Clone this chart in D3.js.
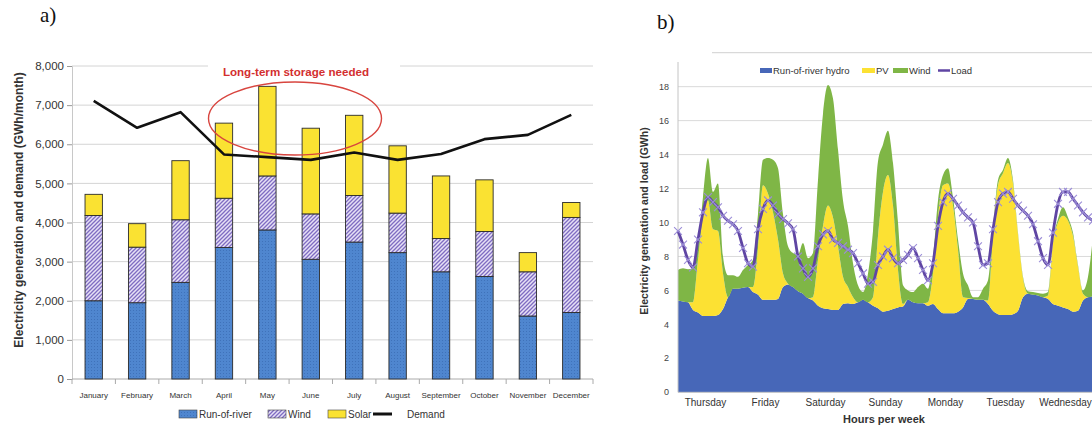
<!DOCTYPE html>
<html>
<head>
<meta charset="utf-8">
<script src="https://cdn.jsdelivr.net/npm/d3@7/dist/d3.min.js"></script>
<style>
  html, body { margin: 0; padding: 0; background: #fff; }
  svg { display: block; }
  text { font-family: "Liberation Sans", Arial, sans-serif; }
</style>
</head>
<body>
<svg id="chart" width="1092" height="427"></svg>
<script>
// ---------- Panel a: monthly generation vs demand (GWh/month) ----------
const months = ["January", "February", "March", "April", "May", "June", "July",
  "August", "September", "October", "November", "December"];
const runOfRiver = [2000, 1950, 2470, 3360, 3810, 3060, 3500, 3230, 2740, 2620, 1610, 1700];
const windMonthly = [2180, 1420, 1600, 1260, 1380, 1160, 1190, 1010, 850, 1150, 1130, 2430];
const solarMonthly = [540, 600, 1510, 1920, 2290, 2190, 2050, 1720, 1600, 1320, 490, 380];
const demandMonthly = [7110, 6420, 6820, 5740, 5670, 5600, 5790, 5600, 5750, 6130, 6240, 6750];
const monthlyTicks = [0, 1000, 2000, 3000, 4000, 5000, 6000, 7000, 8000];

// ---------- Panel b: one week of hourly generation and load (GWh) ----------
const hours = d3.range(0, 168, 2);
const hydroWeek = [5.4, 5.35, 5.3, 4.85, 4.7, 4.5, 4.5, 4.5, 4.55, 4.9, 5.6, 6.1, 6.1, 6.15, 6.2, 5.9,
  5.75, 5.45, 5.45, 5.45, 5.5, 6.2, 6.35, 6.2, 5.95, 5.8, 5.55, 5.4, 5.1, 4.95, 4.9, 4.85,
  4.85, 5.2, 5.25, 5.2, 5.3, 5.45, 5.3, 5.1, 4.95, 4.75, 4.8, 4.9, 5.0, 5.05, 5.45, 5.3,
  5.25, 5.25, 5.1, 5.2, 4.9, 4.65, 4.65, 4.65, 4.75, 5.0, 5.5, 5.5, 5.45, 5.45, 5.2, 4.8,
  4.6, 4.55, 4.55, 4.6, 4.8, 5.6, 5.8, 5.75, 5.7, 5.6, 5.5, 5.2, 5.1, 5.0, 4.9, 4.75,
  4.8, 5.4, 5.6, 5.65];
const pvWeek = [0, 0, 0, 0.45, 3.1, 5.9, 6.8, 5.1, 4.95, 2.1, 0, 0, 0, 0, 0, 0.3,
  2.75, 6.75, 6.25, 5.15, 3.5, 0.8, 0.05, 0, 0, 0, 0, 0.2, 2.7, 4.85, 6.1, 5.45,
  3.75, 1.6, 0.95, 0.4, 0, 0, 0, 0.5, 4.25, 7.05, 8.0, 6.1, 2.2, 0.15, 0, 0,
  0, 0, 0.2, 1.8, 5.4, 7.55, 7.65, 6.35, 3.65, 0.6, 0.05, 0, 0, 0, 0.2, 4.5,
  7.6, 8.35, 8.95, 7.7, 4.5, 1.1, 0, 0, 0, 0, 0.2, 3.6, 4.9, 5.4, 5.2, 4.45,
  2.6, 0.4, 0, 0];
const windWeek = [1.8, 1.95, 1.95, 2.0, 0.8, 1.1, 2.5, 2.2, 2.8, 1.0, 1.3, 0.8, 0.7, 1.05, 1.3, 1.6,
  2.0, 1.5, 2.1, 3.1, 4.2, 3.5, 2.2, 2.0, 2.15, 3.0, 2.35, 2.6, 4.7, 6.6, 7.1, 7.0,
  5.7, 4.5, 3.6, 2.0, 1.0, 0.45, 1.7, 3.9, 4.4, 2.8, 2.6, 2.5, 2.8, 1.1, 0.55, 0.6,
  0.95, 1.15, 0.8, 0.9, 1.0, 0.6, 0.9, 0.5, 0.6, 1.4, 0.75, 0.1, 0.15, 0.65, 1.2, 0.3,
  0.3, 0.2, 0.3, 0.2, 0.1, 0.1, 0.15, 0.15, 0.15, 0.2, 0.2, 0.1, 0.2, 0.5, 0.2, 0.2,
  0.1, 0.2, 1.2, 3.55];
const loadWeek = [9.5, 8.7, 7.8, 7.35, 9.0, 10.6, 11.5, 11.2, 10.9, 10.4, 10.1, 9.9, 9.5, 8.5, 7.6, 7.4,
  9.6, 10.8, 11.3, 11.0, 10.5, 10.2, 9.95, 9.6, 8.0, 7.3, 6.8, 7.3, 8.6, 9.3, 9.5, 9.0,
  8.8, 8.6, 8.4, 8.2, 7.6, 7.0, 6.4, 6.5, 7.5, 8.0, 8.4, 7.9, 7.6, 7.8, 8.1, 8.5,
  7.9, 7.2, 6.6, 7.6, 9.8, 11.2, 11.7, 11.4, 11.0, 10.6, 10.3, 10.0, 8.6, 7.5, 7.6, 9.6,
  11.2, 11.7, 11.8, 11.4, 11.0, 10.7, 10.4, 9.9, 8.9, 7.9, 7.5, 9.4, 11.1, 11.8, 11.8, 11.4,
  11.0, 10.6, 10.3, 10.1];
const weekDays = ["Thursday", "Friday", "Saturday", "Sunday", "Monday", "Tuesday", "Wednesday"];
const weekTicks = [0, 2, 4, 6, 8, 10, 12, 14, 16, 18];

const svg = d3.select("#chart");
const defs = svg.append("defs");

// Fill textures for the monthly bars
const dotPat = defs.append("pattern").attr("id", "riverFill")
  .attr("width", 3).attr("height", 3).attr("patternUnits", "userSpaceOnUse");
dotPat.append("rect").attr("width", 3).attr("height", 3).attr("fill", "#4f86cf");
dotPat.append("rect").attr("x", 1).attr("y", 1).attr("width", 1).attr("height", 1).attr("fill", "#3f72ba");

const hatchPat = defs.append("pattern").attr("id", "windFill")
  .attr("width", 4).attr("height", 4).attr("patternUnits", "userSpaceOnUse");
hatchPat.append("rect").attr("width", 4).attr("height", 4).attr("fill", "#e6e0f6");
hatchPat.append("path").attr("d", "M-1,1 L1,-1 M0,4 L4,0 M3,5 L5,3")
  .attr("stroke", "#7f6cc2").attr("stroke-width", 1.3);

const riverColor = "url(#riverFill)";
const windColor = "url(#windFill)";
const solarColor = "#fae232";

// ================= Panel a =================
const ax = d3.scaleBand().domain(months).range([72, 593]).paddingInner(0.6).paddingOuter(0.3);
const ay = d3.scaleLinear().domain([0, 8000]).range([379, 66]);
const ga = svg.append("g");

ga.append("text").attr("x", 40).attr("y", 22).text("a)")
  .style("font-family", "'Liberation Serif', serif").style("font-size", "21px").attr("fill", "#111");

// horizontal grid
ga.append("g").selectAll("line").data(monthlyTicks.filter(d => d > 0)).join("line")
  .attr("x1", 72).attr("x2", 593).attr("y1", d => ay(d)).attr("y2", d => ay(d))
  .attr("stroke", "#d4d4d4").attr("stroke-width", 1);

// y axis
const yAxisA = d3.axisLeft(ay).tickValues(monthlyTicks).tickFormat(d3.format(",")).tickSize(5).tickPadding(3);
const gYA = ga.append("g").attr("transform", "translate(72,0)").call(yAxisA);
gYA.select(".domain").attr("stroke", "#c8c8c8");
gYA.selectAll(".tick line").attr("stroke", "#999");
gYA.selectAll(".tick text").attr("fill", "#333").style("font-size", "11.5px")
  .style("font-family", "'Liberation Sans', Arial, sans-serif");

// x axis with ticks at category boundaries
ga.append("line").attr("x1", 72).attr("x2", 593).attr("y1", 379).attr("y2", 379).attr("stroke", "#aaa");
const step = ax.step();
const boundaries = d3.range(months.length + 1).map(i => ax.range()[0] + i * step);
ga.append("g").selectAll("line").data(boundaries).join("line")
  .attr("x1", d => d).attr("x2", d => d).attr("y1", 379).attr("y2", 384).attr("stroke", "#aaa");
ga.append("g").selectAll("text").data(months).join("text")
  .attr("x", d => ax(d) + ax.bandwidth() / 2).attr("y", 398)
  .attr("text-anchor", "middle").style("font-size", "8px").attr("fill", "#333").text(d => d);

// stacked bars
const monthRows = months.map((m, i) => ({ month: m, river: runOfRiver[i], wind: windMonthly[i], solar: solarMonthly[i] }));
const stackA = d3.stack().keys(["river", "wind", "solar"])(monthRows);
const fillA = { river: riverColor, wind: windColor, solar: solarColor };
ga.append("g").selectAll("g").data(stackA).join("g")
  .attr("fill", d => fillA[d.key])
  .selectAll("rect").data(d => d).join("rect")
  .attr("x", d => ax(d.data.month)).attr("width", ax.bandwidth())
  .attr("y", d => ay(d[1])).attr("height", d => ay(d[0]) - ay(d[1]))
  .attr("stroke", "#2b2b2b").attr("stroke-width", 0.9);

// demand line
const demandLine = d3.line().x((d, i) => ax(months[i]) + ax.bandwidth() / 2).y(d => ay(d));
ga.append("path").datum(demandMonthly).attr("d", demandLine)
  .attr("fill", "none").attr("stroke", "#111").attr("stroke-width", 2.6).attr("stroke-linejoin", "round");

// annotation
ga.append("ellipse").attr("cx", 295).attr("cy", 118.5).attr("rx", 86.5).attr("ry", 36.5)
  .attr("fill", "none").attr("stroke", "#d8453f").attr("stroke-width", 1.4);
ga.append("rect").attr("x", 208).attr("y", 62).attr("width", 192).attr("height", 10).attr("fill", "#fff");
ga.append("text").attr("x", 296).attr("y", 76).attr("text-anchor", "middle")
  .style("font-size", "11.6px").style("font-weight", "bold").attr("fill", "#d32f2f")
  .text("Long-term storage needed");

// y title
ga.append("text").attr("transform", "translate(23,210) rotate(-90)").attr("text-anchor", "middle")
  .style("font-size", "12px").style("font-weight", "bold").attr("fill", "#333")
  .text("Electricity generation and demand (GWh/month)");

// legend
const legA = [
  { label: "Run-of-river", fill: riverColor, x: 179 },
  { label: "Wind", fill: windColor, x: 268 },
  { label: "Solar", fill: solarColor, x: 328 }
];
const gLegA = ga.append("g");
gLegA.selectAll("rect").data(legA).join("rect")
  .attr("x", d => d.x).attr("y", 410).attr("width", 18).attr("height", 8)
  .attr("fill", d => d.fill).attr("stroke", "#444").attr("stroke-width", 0.6);
gLegA.selectAll("text").data(legA).join("text")
  .attr("x", d => d.x + 20).attr("y", 418).style("font-size", "10px").attr("fill", "#333").text(d => d.label);
gLegA.append("line").attr("x1", 373).attr("x2", 392).attr("y1", 414).attr("y2", 414)
  .attr("stroke", "#111").attr("stroke-width", 3);
gLegA.append("text").attr("x", 407).attr("y", 418).style("font-size", "10px").attr("fill", "#333").text("Demand");

// ================= Panel b =================
const bx = d3.scaleLinear().domain([0, 168]).range([678, 1098]);
const by = d3.scaleLinear().domain([0, 20]).range([392.3, 52.7]);
const gb = svg.append("g");

gb.append("text").attr("x", 657).attr("y", 29).text("b)")
  .style("font-family", "'Liberation Serif', serif").style("font-size", "21px").attr("fill", "#111");

// frame top line and grid
gb.append("line").attr("x1", 712).attr("x2", 1092).attr("y1", by(20)).attr("y2", by(20))
  .attr("stroke", "#d0d0d0");
gb.append("g").selectAll("line").data(weekTicks.filter(d => d > 0)).join("line")
  .attr("x1", 678).attr("x2", 1092).attr("y1", d => by(d)).attr("y2", d => by(d))
  .attr("stroke", "#dadada");

// stacked areas
const hourRows = hours.map((h, i) => ({ h, hydro: hydroWeek[i], pv: pvWeek[i], wind: windWeek[i] }));
const stackB = d3.stack().keys(["hydro", "pv", "wind"])(hourRows);
const fillB = { hydro: "#4767b8", pv: "#fce133", wind: "#7fb646" };
const areaB = d3.area().curve(d3.curveMonotoneX)
  .x(d => bx(d.data.h)).y0(d => by(d[0])).y1(d => by(d[1]));
gb.append("g").selectAll("path").data(stackB).join("path")
  .attr("d", areaB).attr("fill", d => fillB[d.key]);

// axes lines
gb.append("line").attr("x1", 678).attr("x2", 678).attr("y1", 62).attr("y2", 392.3).attr("stroke", "#c4c4c4");
gb.append("line").attr("x1", 678).attr("x2", 1092).attr("y1", 392.3).attr("y2", 392.3).attr("stroke", "#c4c4c4");

// y tick labels
gb.append("g").selectAll("text").data(weekTicks).join("text")
  .attr("x", 669).attr("y", d => by(d)).attr("dy", "0.35em").attr("text-anchor", "end")
  .style("font-size", "9px").attr("fill", "#444").text(d => d);

// load line with cross markers
const loadLine = d3.line().curve(d3.curveMonotoneX).x((d, i) => bx(hours[i])).y(d => by(d));
gb.append("path").datum(loadWeek).attr("d", loadLine)
  .attr("fill", "none").attr("stroke", "#5f45a3").attr("stroke-width", 2.8);
const cross = d3.symbol().type(d3.symbolX).size(42);
gb.append("g").selectAll("path").data(loadWeek).join("path")
  .attr("transform", (d, i) => `translate(${bx(hours[i])},${by(d)})`)
  .attr("d", cross).attr("fill", "none").attr("stroke", "#9c8ed8").attr("stroke-width", 1.1);

// day labels
gb.append("g").selectAll("text").data(weekDays).join("text")
  .attr("x", (d, i) => bx(i * 24 + 11)).attr("y", 406).attr("text-anchor", "middle")
  .style("font-size", "10px").attr("fill", "#333").text(d => d);
gb.append("text").attr("x", 884).attr("y", 423).attr("text-anchor", "middle")
  .style("font-size", "11px").style("font-weight", "bold").attr("fill", "#333").text("Hours per week");

// y title
gb.append("text").attr("transform", "translate(648,221) rotate(-90)").attr("text-anchor", "middle")
  .style("font-size", "10.5px").style("font-weight", "bold").attr("fill", "#333")
  .text("Electricity generation and load (GWh)");

// legend
const legB = [
  { label: "Run-of-river hydro", fill: fillB.hydro, x: 760, w: 12 },
  { label: "PV", fill: fillB.pv, x: 862, w: 13 },
  { label: "Wind", fill: fillB.wind, x: 893, w: 15 }
];
const gLegB = gb.append("g");
gLegB.selectAll("rect").data(legB).join("rect")
  .attr("x", d => d.x).attr("y", 68).attr("width", d => d.w).attr("height", 5).attr("fill", d => d.fill);
gLegB.selectAll("text").data(legB).join("text")
  .attr("x", d => d.x + d.w + 1).attr("y", 74).style("font-size", "9.5px").attr("fill", "#333").text(d => d.label);
gLegB.append("line").attr("x1", 938).attr("x2", 950).attr("y1", 70.5).attr("y2", 70.5)
  .attr("stroke", "#5f45a3").attr("stroke-width", 2.5);
gLegB.append("text").attr("x", 951).attr("y", 74).style("font-size", "9.5px").attr("fill", "#333").text("Load");
</script>
</body>
</html>
